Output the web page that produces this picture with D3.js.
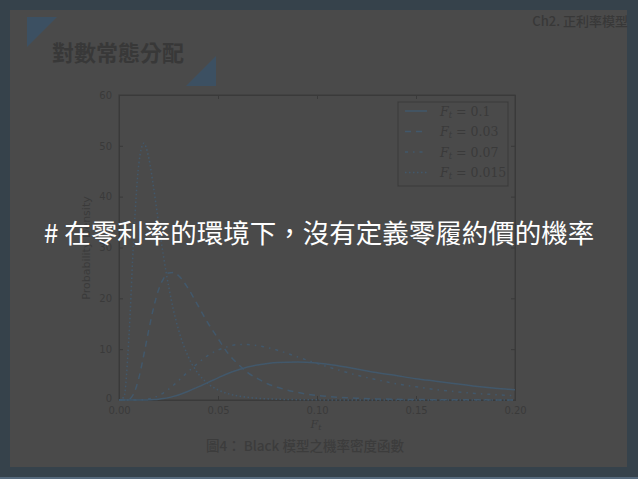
<!DOCTYPE html>
<html><head><meta charset="utf-8">
<script src="https://cdn.jsdelivr.net/npm/d3@7/dist/d3.min.js"></script>
<style>
html,body{margin:0;padding:0;background:#36424b;}
svg{display:block;}
</style></head>
<body>
<svg id="chart" width="638" height="479"></svg>
<script>
// ---- data ----
const xValues = [0, 0.0025, 0.005, 0.0075, 0.01, 0.0125, 0.015, 0.0175, 0.02, 0.0225, 0.025, 0.0275, 0.03, 0.035, 0.04, 0.045, 0.05, 0.055, 0.06, 0.065, 0.07, 0.075, 0.08, 0.09, 0.10, 0.11, 0.12, 0.13, 0.14, 0.15, 0.16, 0.17, 0.18, 0.19, 0.20];
const densF010 = [0,0,0,0,0,0,0.03,0.08,0.16,0.29,0.47,0.71,1.0,1.73,2.57,3.47,4.36,5.2,5.9,6.5,6.9,7.2,7.4,7.5,7.3,6.8,6.1,5.4,4.8,4.2,3.7,3.2,2.7,2.3,2.0];
const densF003 = [0,0,0.14,1.3,4.3,8.8,13.7,18.2,21.7,23.9,25.0,25.1,24.5,21.9,18.5,15.1,12.1,9.2,7.1,5.4,4.2,3.2,2.5,1.5,0.9,0.55,0.35,0.22,0.14,0.09,0.06,0.04,0.03,0.02,0.01];
const densF007 = [0,0,0,0,0.02,0.07,0.21,0.46,0.87,1.42,2.1,2.9,3.8,5.6,7.3,8.8,9.8,10.5,10.9,10.9,10.7,10.3,9.8,8.5,7.2,6.0,4.9,4.0,3.2,2.6,2.05,1.64,1.3,1.05,0.84];
const densF0015 = [0,0.6,12.3,32.5,46.4,50.5,47.7,41.7,34.8,28.2,22.5,17.7,13.9,8.5,5.2,3.2,2.0,1.25,0.8,0.52,0.34,0.23,0.15,0.07,0.03,0.01,0,0,0,0,0,0,0,0,0];
const seriesLabels = ["0.1", "0.03", "0.07", "0.015"];
const xTicks = [0, 0.05, 0.10, 0.15, 0.20];
const yTicks = [0, 10, 20, 30, 40, 50, 60];

const series = [
  {label: seriesLabels[0], values: densF010, dash: null},
  {label: seriesLabels[1], values: densF003, dash: "6,5"},
  {label: seriesLabels[2], values: densF007, dash: "3,5,1.5,5"},
  {label: seriesLabels[3], values: densF0015, dash: "1.5,2.5"}
];

const svg = d3.select("#chart");
const W = 638, H = 479;
const inkDark = "#3a3a3a";
const lineCol = "#42586b";

// slide background
svg.append("rect").attr("x",0).attr("y",0).attr("width",W).attr("height",H).attr("fill","#36424b");
svg.append("rect").attr("x",10).attr("y",10).attr("width",617).attr("height",457).attr("fill","#4a4a4a");
svg.append("rect").attr("x",0).attr("y",477).attr("width",W).attr("height",2).attr("fill","#55697c");

// decorative triangles
svg.append("path").attr("d","M27,17 L57,17 L27,47 Z").attr("fill","#3c5062");
svg.append("path").attr("d","M186,86 L216,86 L216,56 Z").attr("fill","#3c5062");

// title & header
svg.append("text").attr("x",52).attr("y",61).attr("font-family","'Noto Sans CJK TC'")
  .attr("font-size",22).attr("font-weight",700).attr("fill","#383838").text("對數常態分配");
svg.append("text").attr("x",628).attr("y",26).attr("text-anchor","end").attr("font-family","'Noto Sans CJK TC'")
  .attr("font-size",13).attr("font-weight",500).attr("fill","#383838").text("Ch2. 正利率模型");

// plot
const m = {l:119, r:515, t:95, b:400};
const x = d3.scaleLinear().domain([0,0.2]).range([m.l, m.r]);
const y = d3.scaleLinear().domain([0,60]).range([m.b, m.t]);

const g = svg.append("g");
g.append("rect").attr("x",m.l).attr("y",m.t).attr("width",m.r-m.l).attr("height",m.b-m.t)
  .attr("fill","none").attr("stroke",inkDark).attr("stroke-width",1);

const tickFont = "'DejaVu Sans', sans-serif";
const xAxis = g.append("g").attr("transform",`translate(0,${m.b})`)
  .call(d3.axisBottom(x).tickValues(xTicks).tickFormat(d3.format(".2f")).tickSize(-4).tickPadding(7));
const yAxis = g.append("g").attr("transform",`translate(${m.l},0)`)
  .call(d3.axisLeft(y).tickValues(yTicks).tickFormat(d3.format("d")).tickSize(-4).tickPadding(7));
const xAxisTop = g.append("g").attr("transform",`translate(0,${m.t})`)
  .call(d3.axisTop(x).tickValues(xTicks).tickFormat("").tickSize(-4));
const yAxisR = g.append("g").attr("transform",`translate(${m.r},0)`)
  .call(d3.axisRight(y).tickValues(yTicks).tickFormat("").tickSize(-4));
[xAxis,yAxis,xAxisTop,yAxisR].forEach(a=>{
  a.select(".domain").attr("stroke",inkDark);
  a.selectAll("line").attr("stroke",inkDark);
  a.selectAll("text").attr("fill",inkDark).attr("font-family",tickFont).attr("font-size",10);
});
yAxis.selectAll(".tick").filter(d=>d===0).select("text").attr("dy","0.1em");

// curves
const line = d3.line().x((d,i)=>x(xValues[i])).y(d=>y(d)).curve(d3.curveMonotoneX);
series.forEach(s=>{
  g.append("path").datum(s.values).attr("d",line).attr("fill","none")
    .attr("stroke",lineCol).attr("stroke-width",1.5)
    .attr("stroke-dasharray",s.dash);
});

// legend
const lg = g.append("g");
lg.append("rect").attr("x",398).attr("y",102).attr("width",110).attr("height",84)
  .attr("fill","#4a4a4a").attr("stroke",inkDark).attr("stroke-width",1);
series.forEach((s,i)=>{
  const yy = 111 + i*20.5;
  lg.append("line").attr("x1",405).attr("x2",427).attr("y1",yy).attr("y2",yy)
    .attr("stroke",lineCol).attr("stroke-width",1.5).attr("stroke-dasharray",s.dash);
  const t = lg.append("text").attr("x",440).attr("y",yy+4.5).attr("font-family","'DejaVu Serif', serif")
    .attr("font-size",12.5).attr("fill",inkDark);
  t.append("tspan").attr("font-style","italic").text("F");
  t.append("tspan").attr("font-size",8.5).attr("dy",2).attr("font-style","italic").text("t");
  t.append("tspan").attr("dy",-2).text(" = " + s.label);
});

// axis labels
const xl = svg.append("text").attr("x",316).attr("y",428).attr("text-anchor","middle")
  .attr("font-family","'DejaVu Serif', serif").attr("font-size",11).attr("fill",inkDark);
xl.append("tspan").attr("font-style","italic").text("F");
xl.append("tspan").attr("font-size",8).attr("dy",2).attr("font-style","italic").text("t");
svg.append("text").attr("transform","translate(90,248) rotate(-90)").attr("text-anchor","middle")
  .attr("font-family",tickFont).attr("font-size",11).attr("fill",inkDark).text("Probability Density");

// caption
svg.append("text").attr("x",305).attr("y",451).attr("text-anchor","middle")
  .attr("font-family","'Noto Sans CJK TC'").attr("font-size",13.5).attr("font-weight",500)
  .attr("fill","#3c3c3c").text("圖4： Black 模型之機率密度函數");

// overlay note
svg.append("text").attr("x",319).attr("y",243).attr("text-anchor","middle")
  .attr("font-family","'Noto Sans CJK TC'").attr("font-size",26.5).attr("font-weight",400)
  .attr("fill","#ffffff").text("# 在零利率的環境下，沒有定義零履約價的機率");
</script>
</body></html>
